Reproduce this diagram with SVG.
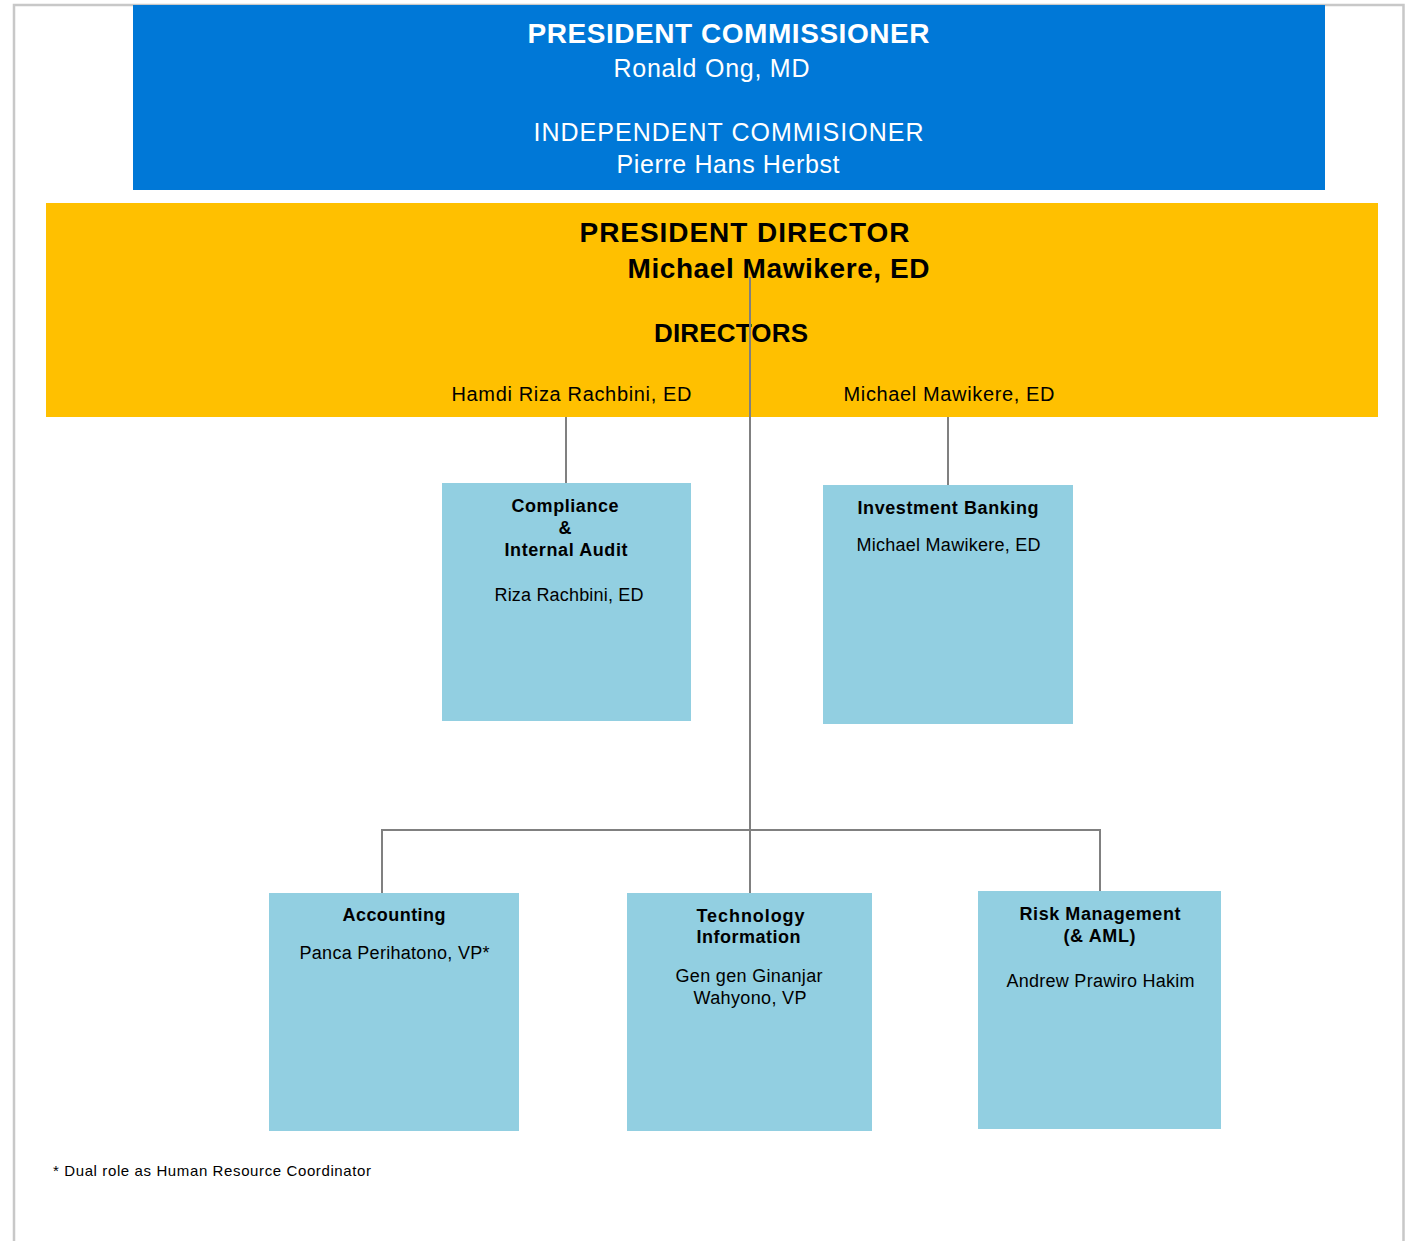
<svg xmlns="http://www.w3.org/2000/svg" width="1405" height="1241" viewBox="0 0 1405 1241">
<style>
text{font-family:"Liberation Sans",Arial,sans-serif;text-anchor:middle;fill:#000}
.w{fill:#fff}
.b{font-weight:bold}
.box{fill:#92CFE1}
.ln{stroke:#808080;stroke-width:2;fill:none}
</style>
<rect width="1405" height="1241" fill="#fff"/>
<path d="M14,1241 V5 H1403.5 V1241" fill="none" stroke="#c8c8c8" stroke-width="2.5"/>
<g id="commissioners">
<rect x="133" y="5" width="1192" height="185" fill="#0078D7"/>
<text x="728.5" y="43" class="w b" font-size="28" textLength="402" lengthAdjust="spacing">PRESIDENT COMMISSIONER</text>
<text x="711.5" y="77" class="w" font-size="25" textLength="196" lengthAdjust="spacing">Ronald Ong, MD</text>
<text x="728.5" y="141" class="w" font-size="25" textLength="390" lengthAdjust="spacing">INDEPENDENT  COMMISIONER</text>
<text x="728" y="173" class="w" font-size="25" textLength="223" lengthAdjust="spacing">Pierre Hans Herbst</text>
</g>
<g id="directors">
<rect x="46" y="203" width="1332" height="214" fill="#FFC000"/>
<text x="744.5" y="242" class="b" font-size="28" textLength="330" lengthAdjust="spacing">PRESIDENT DIRECTOR</text>
<text x="778.5" y="278" class="b" font-size="28" textLength="302" lengthAdjust="spacing">Michael  Mawikere, ED</text>
<text x="731" y="342" class="b" font-size="26" textLength="154" lengthAdjust="spacing">DIRECTORS</text>
<text x="571.5" y="401" font-size="20" textLength="240" lengthAdjust="spacing">Hamdi Riza Rachbini,  ED</text>
<text x="949" y="401" font-size="20" textLength="211" lengthAdjust="spacing">Michael Mawikere,  ED</text>
</g>
<g id="connectors">
<path class="ln" d="M750,277 V830"/>
<path class="ln" d="M382,893 V830 H1100 V891"/>
<path class="ln" d="M750,830 V893"/>
<path class="ln" d="M566,417 V483"/>
<path class="ln" d="M948,417 V485"/>
</g>
<g id="compliance">
<rect x="442" y="483" width="249" height="238" class="box"/>
<text x="565" y="512" class="b" font-size="18" textLength="107" lengthAdjust="spacing">Compliance</text>
<text x="565" y="534" class="b" font-size="18">&amp;</text>
<text x="566" y="556" class="b" font-size="18" textLength="123" lengthAdjust="spacing">Internal Audit</text>
<text x="569" y="601" font-size="18" textLength="149" lengthAdjust="spacing">Riza  Rachbini, ED</text>
</g>
<g id="investment">
<rect x="823" y="485" width="250" height="239" class="box"/>
<text x="948" y="514" class="b" font-size="18" textLength="181" lengthAdjust="spacing">Investment Banking</text>
<text x="948.5" y="551" font-size="18" textLength="184" lengthAdjust="spacing">Michael Mawikere,  ED</text>
</g>
<g id="accounting">
<rect x="269" y="893" width="250" height="238" class="box"/>
<text x="394" y="921" class="b" font-size="18" textLength="103" lengthAdjust="spacing">Accounting</text>
<text x="394.5" y="959" font-size="18" textLength="190" lengthAdjust="spacing">Panca Perihatono, VP*</text>
</g>
<g id="technology">
<rect x="627" y="893" width="245" height="238" class="box"/>
<text x="750.5" y="922" class="b" font-size="18" textLength="108" lengthAdjust="spacing">Technology</text>
<text x="748.5" y="943" class="b" font-size="18" textLength="104" lengthAdjust="spacing">Information</text>
<text x="749" y="982" font-size="18" textLength="147" lengthAdjust="spacing">Gen gen Ginanjar</text>
<text x="750" y="1004" font-size="18" textLength="113" lengthAdjust="spacing">Wahyono, VP</text>
</g>
<g id="risk">
<rect x="978" y="891" width="243" height="238" class="box"/>
<text x="1100" y="920" class="b" font-size="18" textLength="161" lengthAdjust="spacing">Risk Management</text>
<text x="1099.5" y="942" class="b" font-size="18" textLength="72" lengthAdjust="spacing">(&amp; AML)</text>
<text x="1100.5" y="987" font-size="18" textLength="188" lengthAdjust="spacing">Andrew Prawiro Hakim</text>
</g>
<text x="53" y="1176" font-size="15" style="text-anchor:start" textLength="318" lengthAdjust="spacing">* Dual role as Human Resource Coordinator</text>
</svg>
